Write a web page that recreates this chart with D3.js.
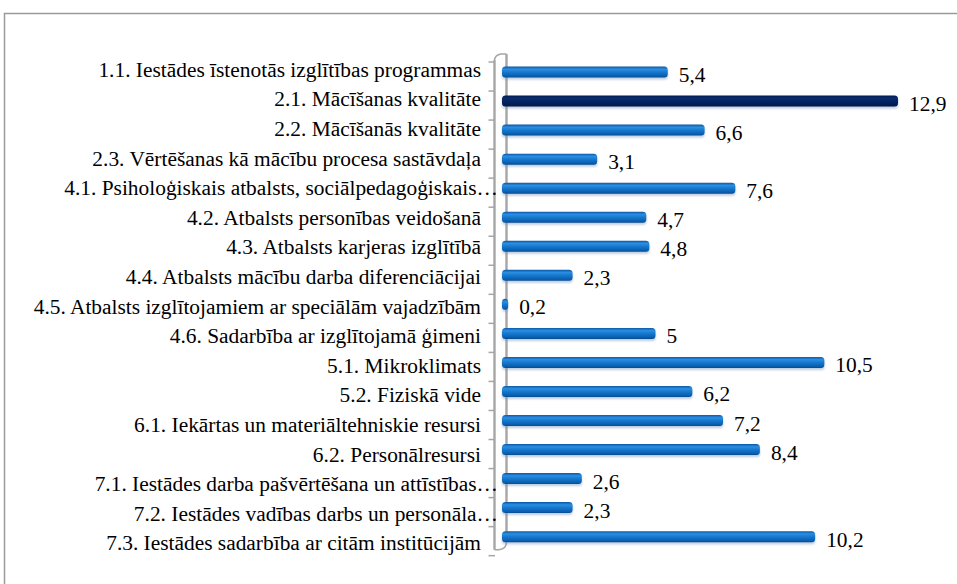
<!DOCTYPE html>
<html>
<head>
<meta charset="utf-8">
<script src="https://cdn.jsdelivr.net/npm/d3@7"></script>
</head>
<body style="margin:0">
<svg id="chart" width="957" height="584"></svg>
<script>
const categories = [
  "1.1. Iestādes īstenotās izglītības programmas",
  "2.1. Mācīšanas kvalitāte",
  "2.2. Mācīšanās kvalitāte",
  "2.3. Vērtēšanas kā mācību procesa sastāvdaļa",
  "4.1. Psiholoģiskais atbalsts, sociālpedagoģiskais…",
  "4.2. Atbalsts personības veidošanā",
  "4.3. Atbalsts karjeras izglītībā",
  "4.4. Atbalsts mācību darba diferenciācijai",
  "4.5. Atbalsts izglītojamiem ar speciālām vajadzībām",
  "4.6. Sadarbība ar izglītojamā ģimeni",
  "5.1. Mikroklimats",
  "5.2. Fiziskā vide",
  "6.1. Iekārtas un materiāltehniskie resursi",
  "6.2. Personālresursi",
  "7.1. Iestādes darba pašvērtēšana un attīstības…",
  "7.2. Iestādes vadības darbs un personāla…",
  "7.3. Iestādes sadarbība ar citām institūcijām"
];
const values = [5.4, 12.9, 6.6, 3.1, 7.6, 4.7, 4.8, 2.3, 0.2, 5, 10.5, 6.2, 7.2, 8.4, 2.6, 2.3, 10.2];
const valueLabels = ["5,4", "12,9", "6,6", "3,1", "7,6", "4,7", "4,8", "2,3", "0,2", "5", "10,5", "6,2", "7,2", "8,4", "2,6", "2,3", "10,2"];
const highlighted = ["2.1. Mācīšanas kvalitāte"];

const svg = d3.select("#chart");
const fontSize = 20;
const stretch = 1.07;

// outer frame
svg.append("rect")
  .attr("x", 4.5).attr("y", 13.5)
  .attr("width", 970).attr("height", 600)
  .attr("fill", "none").attr("stroke", "#9a9a9a").attr("stroke-width", 1.5);

const x = d3.scaleLinear().domain([0, 14]).range([502, 502 + 14 * 30.7]);
const y = d3.scaleBand().domain(categories).range([58, 58 + 17 * 29.04]);
const yLab = d3.scaleBand().domain(categories).range([55, 55 + 17 * 29.6]);
const barH = 11;

// gradients
const defs = svg.append("defs");
function cyl(id, stops) {
  const g = defs.append("linearGradient").attr("id", id)
    .attr("x1", 0).attr("y1", 0).attr("x2", 0).attr("y2", 1);
  stops.forEach(s => g.append("stop").attr("offset", s[0]).attr("stop-color", s[1]));
}
cyl("gBlue", [[0, "#0b58a8"], [0.25, "#2b8ee0"], [0.5, "#1679cf"], [0.85, "#0a5fb0"], [1, "#084a8f"]]);
cyl("gNavy", [[0, "#001a4e"], [0.25, "#0a2c6e"], [0.5, "#052462"], [0.85, "#021c52"], [1, "#00143e"]]);
const blur = defs.append("filter").attr("id", "sh").attr("x", "-5%").attr("y", "-50%").attr("width", "110%").attr("height", "200%");
blur.append("feGaussianBlur").attr("stdDeviation", 1.2);

// 3D wall (axis)
const wall = svg.append("g").attr("stroke", "#a6a6a6").attr("fill", "none").attr("stroke-width", 2.4);
const yTop = y.range()[0], yBot = y.range()[1];
wall.append("path").attr("d", `M494.5,${yTop + 2} L494.5,${yBot - 2}`);
wall.append("path").attr("d", `M506.5,${yTop - 4} L506.5,${yBot - 10}`);
wall.append("path").attr("d", `M494.5,${yTop + 2} Q495,${yTop - 3} 501,${yTop - 4} L506.5,${yTop - 4}`).attr("stroke-width", 1.6);
wall.append("path").attr("d", `M494.5,${yBot - 2} L499,${yBot - 2} Q506.5,${yBot - 3} 506.5,${yBot - 10}`).attr("stroke-width", 1.6);
// ticks at category boundaries
const ticks = d3.range(categories.length + 1).map(i => yTop + 4 + i * y.step());
wall.selectAll("line.tick").data(ticks).join("line")
  .attr("class", "tick")
  .attr("x1", 488.5).attr("x2", 495)
  .attr("y1", d => d).attr("y2", d => d)
  .attr("stroke-width", 1.5);

// bars
const bars = svg.append("g");
const cy = d => y(d) + y.bandwidth() / 2 - 0.5;
bars.selectAll("rect.shadow").data(categories).join("rect")
  .attr("class", "shadow")
  .attr("x", x(0))
  .attr("y", d => cy(d) - barH / 2 + 2)
  .attr("width", (d, i) => Math.max(x(values[i]) - x(0), 5))
  .attr("height", barH)
  .attr("rx", 3)
  .attr("fill", "#6a8fb8").attr("opacity", 0.45)
  .attr("filter", "url(#sh)");
bars.selectAll("rect.bar").data(categories).join("rect")
  .attr("class", "bar")
  .attr("x", x(0))
  .attr("y", d => cy(d) - barH / 2)
  .attr("width", (d, i) => Math.max(x(values[i]) - x(0), 5))
  .attr("height", barH)
  .attr("rx", 3.5)
  .attr("fill", d => highlighted.includes(d) ? "url(#gNavy)" : "url(#gBlue)");

// value labels
svg.append("g").selectAll("text.val").data(categories).join("text")
  .attr("class", "val")
  .attr("transform", (d, i) => `translate(${Math.max(x(values[i]), x(0) + 5) + 11},${cy(d) + 3}) scale(${stretch},1)`)
  .attr("dy", "0.35em")
  .style("font-family", d => `"Liberation Serif"`)
  .style("font-size", "20px")
  .attr("fill", "#000")
  .text((d, i) => valueLabels[i]);

// category labels
svg.append("g").selectAll("text.cat").data(categories).join("text")
  .attr("class", "cat")
  .attr("transform", d => `translate(${d.endsWith("…") ? 498 : 481},${yLab(d) + yLab.bandwidth() / 2}) scale(${stretch},1)`)
  .attr("dy", "0.35em")
  .attr("text-anchor", "end")
  .style("font-family", d => `"Liberation Serif"`)
  .style("font-size", "20px")
  .attr("fill", "#000")
  .text(d => d);
</script>
</body>
</html>
